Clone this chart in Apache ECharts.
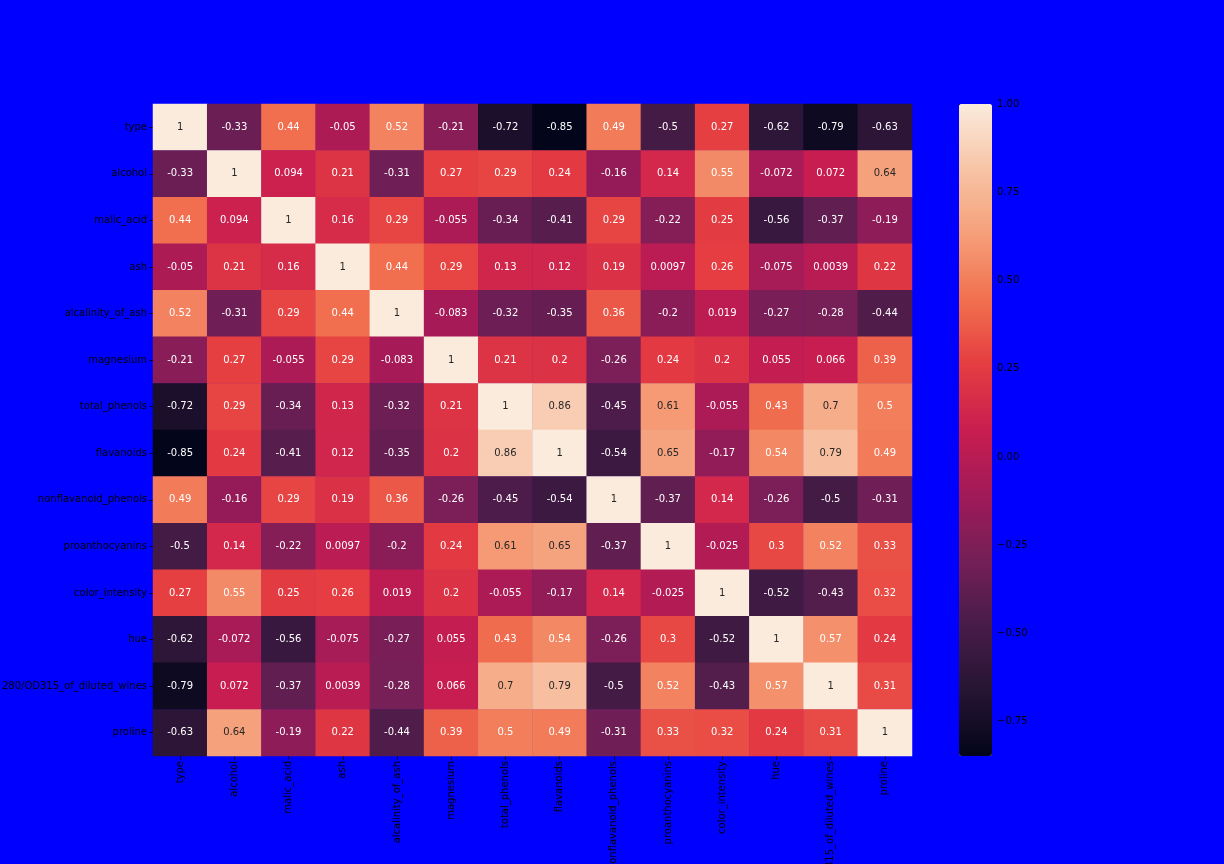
<!DOCTYPE html>
<html>
<head>
<meta charset="utf-8">
<script src="https://cdn.jsdelivr.net/npm/echarts@6/dist/echarts.min.js"></script>
<style>
html,body{margin:0;padding:0;background:#0000FF;}
#chart{width:1224px;height:864px;}
</style>
</head>
<body>
<div id="chart"></div>
<script>
const features = ['type','alcohol','malic_acid','ash','alcalinity_of_ash','magnesium','total_phenols','flavanoids','nonflavanoid_phenols','proanthocyanins','color_intensity','hue','280/OD315_of_diluted_wines','proline'];

const rowType        = [1, -0.33, 0.44, -0.05, 0.52, -0.21, -0.72, -0.85, 0.49, -0.5, 0.27, -0.62, -0.79, -0.63];
const rowAlcohol     = [-0.33, 1, 0.094, 0.21, -0.31, 0.27, 0.29, 0.24, -0.16, 0.14, 0.55, -0.072, 0.072, 0.64];
const rowMalic       = [0.44, 0.094, 1, 0.16, 0.29, -0.055, -0.34, -0.41, 0.29, -0.22, 0.25, -0.56, -0.37, -0.19];
const rowAsh         = [-0.05, 0.21, 0.16, 1, 0.44, 0.29, 0.13, 0.12, 0.19, 0.0097, 0.26, -0.075, 0.0039, 0.22];
const rowAlcalinity  = [0.52, -0.31, 0.29, 0.44, 1, -0.083, -0.32, -0.35, 0.36, -0.2, 0.019, -0.27, -0.28, -0.44];
const rowMagnesium   = [-0.21, 0.27, -0.055, 0.29, -0.083, 1, 0.21, 0.2, -0.26, 0.24, 0.2, 0.055, 0.066, 0.39];
const rowPhenols     = [-0.72, 0.29, -0.34, 0.13, -0.32, 0.21, 1, 0.86, -0.45, 0.61, -0.055, 0.43, 0.7, 0.5];
const rowFlavanoids  = [-0.85, 0.24, -0.41, 0.12, -0.35, 0.2, 0.86, 1, -0.54, 0.65, -0.17, 0.54, 0.79, 0.49];
const rowNonflav     = [0.49, -0.16, 0.29, 0.19, 0.36, -0.26, -0.45, -0.54, 1, -0.37, 0.14, -0.26, -0.5, -0.31];
const rowProanth     = [-0.5, 0.14, -0.22, 0.0097, -0.2, 0.24, 0.61, 0.65, -0.37, 1, -0.025, 0.3, 0.52, 0.33];
const rowColor       = [0.27, 0.55, 0.25, 0.26, 0.019, 0.2, -0.055, -0.17, 0.14, -0.025, 1, -0.52, -0.43, 0.32];
const rowHue         = [-0.62, -0.072, -0.56, -0.075, -0.27, 0.055, 0.43, 0.54, -0.26, 0.3, -0.52, 1, 0.57, 0.24];
const rowOD          = [-0.79, 0.072, -0.37, 0.0039, -0.28, 0.066, 0.7, 0.79, -0.5, 0.52, -0.43, 0.57, 1, 0.31];
const rowProline     = [-0.63, 0.64, -0.19, 0.22, -0.44, 0.39, 0.5, 0.49, -0.31, 0.33, 0.32, 0.24, 0.31, 1];

const colorbarTicks = [-0.75, -0.5, -0.25, 0, 0.25, 0.5, 0.75, 1];
const vMin = -0.847, vMax = 1;

const rows = [rowType, rowAlcohol, rowMalic, rowAsh, rowAlcalinity, rowMagnesium, rowPhenols, rowFlavanoids, rowNonflav, rowProanth, rowColor, rowHue, rowOD, rowProline];

const rocket = ['#03051A','#261433','#471C48','#741F57','#A01A58','#C91D50','#E53D41','#F1704F','#F59F79','#F7C4A5','#FAEBDD'];

const data = [];
rows.forEach((r, yi) => r.forEach((v, xi) => {
  data.push({value: [xi, yi, v], label: {color: v >= 0.6 ? '#262626' : '#ffffff'}});
}));

const FONT = 'DejaVu Sans';
const chart = echarts.init(document.getElementById('chart'), null, {renderer: 'canvas'});
chart.setOption({
  backgroundColor: '#0000FF',
  animation: false,
  grid: [
    {left: 153, top: 104, width: 759, height: 652, outerBoundsMode: 'none', containLabel: false},
    {left: 959, top: 104, width: 33, height: 652, outerBoundsMode: 'none', containLabel: false}
  ],
  xAxis: [
    {type: 'category', gridIndex: 0, data: features, position: 'bottom',
     axisLine: {show: false}, splitLine: {show: false},
     axisTick: {show: true, alignWithLabel: true, length: 3.5, lineStyle: {color: '#000', width: 0.8}},
     axisLabel: {rotate: 90, interval: 0, fontFamily: FONT, fontSize: 10, color: '#000', margin: 5, hideOverlap: false}},
    {type: 'value', gridIndex: 1, show: false, min: 0, max: 1}
  ],
  yAxis: [
    {type: 'category', gridIndex: 0, data: features, inverse: true,
     axisLine: {show: false}, splitLine: {show: false},
     axisTick: {show: true, alignWithLabel: true, length: 3.5, lineStyle: {color: '#000', width: 0.8}},
     axisLabel: {interval: 0, fontFamily: FONT, fontSize: 10, color: '#000', margin: 6}},
    {type: 'value', gridIndex: 1, position: 'right', min: vMin, max: vMax,
     axisLine: {show: false}, splitLine: {show: false},
     axisTick: {show: true, length: 3.5, customValues: colorbarTicks, lineStyle: {color: '#000', width: 0.8}},
     axisLabel: {customValues: colorbarTicks, fontFamily: FONT, fontSize: 10, color: '#000', margin: 5,
       formatter: v => (v < 0 ? '\u2212' : '') + Math.abs(v).toFixed(2)}}
  ],
  visualMap: {
    type: 'continuous', min: vMin, max: vMax, calculable: false, seriesIndex: 0,
    left: 959, top: 104, itemWidth: 33, itemHeight: 652, padding: 0,
    text: null, showLabel: false, hoverLink: false,
    inRange: {color: rocket}
  },
  series: [{
    type: 'heatmap', xAxisIndex: 0, yAxisIndex: 0, data: data,
    label: {show: true, fontFamily: FONT, fontSize: 10,
      formatter: p => String(parseFloat(p.value[2].toPrecision(2)))},
    itemStyle: {borderWidth: 0},
    emphasis: {disabled: true}
  }]
});
</script>
</body>
</html>
